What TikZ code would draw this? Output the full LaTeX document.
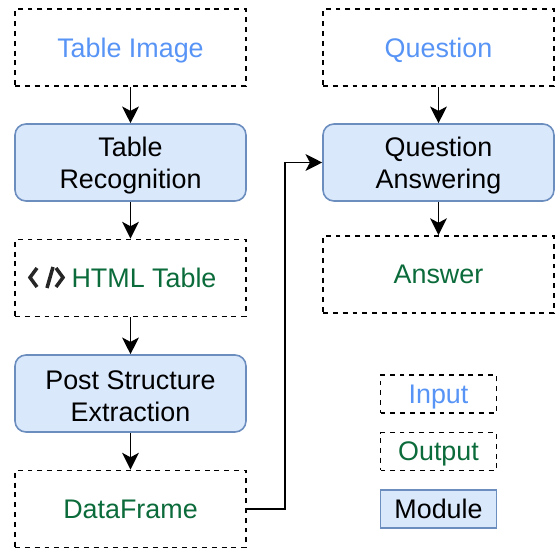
\documentclass[tikz,border=0pt]{standalone}
\usepackage{fontspec}
\setmainfont{Liberation Sans}
\usetikzlibrary{arrows.meta}
\definecolor{inputblue}{HTML}{5794F5}
\definecolor{outputgreen}{HTML}{0B6B3A}
\definecolor{modulefill}{HTML}{DAE8FC}
\definecolor{moduleline}{HTML}{6C8EBF}
\tikzset{
	box/.style={minimum width=4.62cm, minimum height=1.54cm, inner sep=0pt, align=center, text depth=0pt, font=\fontsize{15.3}{18.1}\selectfont},
	databox/.style={box, draw=black, line width=1.1pt, dash pattern=on 2.8pt off 2.8pt},
	modulebox/.style={box, draw=moduleline, fill=modulefill, line width=0.9pt, rounded corners=6.2pt},
	legendbox/.style={minimum width=2.32cm, minimum height=0.76cm},
	flow/.style={-{Stealth[length=9.5pt,width=9.5pt,inset=2.5pt]}, line width=1.1pt}
}

\begin{document}
\begin{tikzpicture}[x=0.02cm, y=-0.02cm]
	\useasboundingbox (0,0) rectangle (556,548);

	%%%%% left column %%%%%
	\node[databox, text=inputblue] (tableimage) at (130.5,47.5) {Table Image};
	\node[modulebox] (recognition) at (130.5,162.5) {Table\\Recognition};
	\node[databox] (htmltable) at (130.5,278) {};
	\node[modulebox] (extraction) at (130.5,393.5) {\rule{0pt}{13.4pt}Post Structure\\Extraction};
	\node[databox, text=outputgreen] (dataframe) at (130.5,509) {DataFrame};

	\node[box, minimum width=0pt, minimum height=0pt, text=outputgreen] (htmllabel) at (144,277.5) {HTML Table};
	\draw[line width=2pt, color=black!85] (37,268) -- (30,277.5) -- (37,287);
	\draw[line width=2pt, color=black!85] (53,267) -- (47,288);
	\draw[line width=2pt, color=black!85] (56,268) -- (63,277.5) -- (56,287);

	%%%%% right column %%%%%
	\node[databox, text=inputblue] (question) at (438.5,47.5) {Question};
	\node[modulebox] (answering) at (438.5,162.5) {Question\\Answering};
	\node[databox, text=outputgreen] (answer) at (438.5,274.5) {Answer};

	%%%%% legend %%%%%
	\node[databox, legendbox, text=inputblue] (input) at (438.5,394) {Input};
	\node[databox, legendbox, text=outputgreen] (output) at (438.5,451.5) {Output};
	\node[modulebox, legendbox, rounded corners=0pt] (module) at (438.5,509) {Module};

	%%%%% connectors %%%%%
	\coordinate (bend) at (285,509);
	\draw[flow] (tableimage) -- (recognition);
	\draw[flow] (recognition) -- (htmltable);
	\draw[flow] (htmltable) -- (extraction);
	\draw[flow] (extraction) -- (dataframe);
	\draw[flow] (dataframe) -- (bend) |- (answering);
	\draw[flow] (question) -- (answering);
	\draw[flow] (answering) -- (answer);
\end{tikzpicture}
\end{document}
